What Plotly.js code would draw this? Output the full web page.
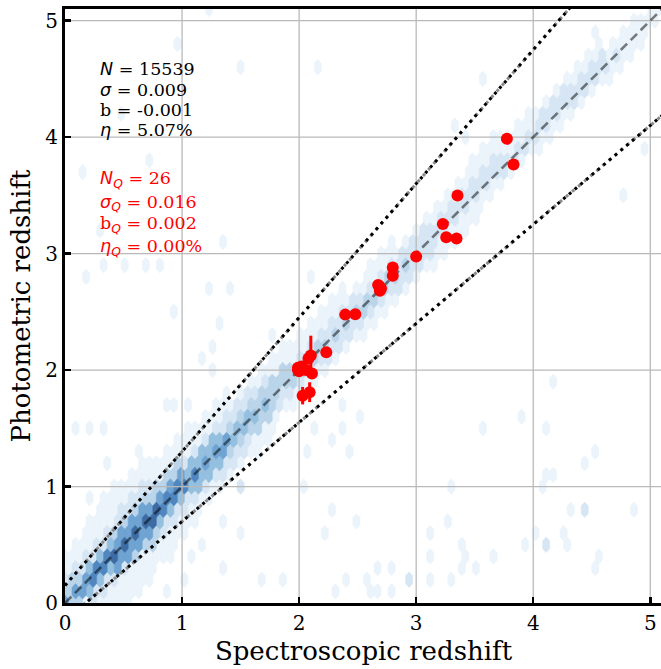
<!DOCTYPE html>
<html><head><meta charset="utf-8">
<script src="https://cdn.plot.ly/plotly-3.0.1.min.js"></script>
<style>html,body{margin:0;padding:0;overflow:hidden;background:#fff}#chart{width:665px;height:669px}</style>
</head><body><div id="chart"></div>
<script>
// ---------- quasar sample (red points) ----------
const qsoZspec = [3.775,3.832,3.353,3.228,3.257,3.345,3.00,2.80,2.80,2.675,2.69,2.70,2.394,2.48,2.232,2.10,2.08,1.99,2.02,2.00,2.11,2.09,2.03,2.06,2.685,1.99];
const qsoZphot = [3.985,3.764,3.498,3.255,3.14,3.129,2.974,2.88,2.81,2.73,2.68,2.70,2.476,2.48,2.153,2.125,2.10,2.00,2.03,1.99,1.97,1.81,1.78,2.00,2.72,2.02];
const qsoErr   = [0,0,0,0,0,0,0,0,0,0,0,0,0,0,0,0.17,0,0,0,0,0,0.085,0.075,0,0,0];

// ---------- hexbin density (levels) ----------
const densityZEdges = [0,0.2,0.4,0.6,0.8,1.0,1.2,1.4,1.6,1.8,2.0,2.2,2.4,2.6,2.8,3.0,3.2,3.4,3.6,3.8,4.0,4.2,4.4,4.6,4.8,5.0];
const densityOffsets = [-0.6,-0.5,-0.4,-0.3,-0.2,-0.1,0,0.1,0.2,0.3,0.4,0.5,0.6];
const densityLevels = [
  [0,0,0,0,1,3,5,3,2,1,1,0,0],
  [0,0,1,1,2,4,6,4,2,1,1,1,0],
  [0,1,1,1,2,5,7,5,3,2,1,1,0],
  [0,1,1,1,3,5,7,5,3,2,1,1,0],
  [0,0,1,1,2,4,6,5,3,1,1,0,0],
  [0,0,1,1,2,4,6,4,2,1,1,0,0],
  [0,0,0,1,2,4,5,4,2,1,1,0,0],
  [0,0,0,1,2,3,4,3,2,1,0,0,0],
  [0,0,0,1,1,3,4,3,2,1,0,0,0],
  [0,0,0,0,1,2,3,3,1,1,0,0,0],
  [0,0,0,0,1,2,3,2,1,1,0,0,0],
  [0,0,0,0,1,2,3,2,1,1,0,0,0],
  [0,0,0,0,1,2,3,2,1,0,0,0,0],
  [0,0,0,0,1,2,3,2,1,1,0,0,0],
  [0,0,0,0,1,2,3,2,1,0,0,0,0],
  [0,0,0,0,1,2,2,2,1,0,0,0,0],
  [0,0,0,0,1,1,2,2,1,0,0,0,0],
  [0,0,0,0,1,1,2,2,1,1,0,0,0],
  [0,0,0,0,0,1,2,2,1,1,0,0,0],
  [0,0,0,0,0,1,2,1,1,0,0,0,0],
  [0,0,0,0,0,1,2,2,1,0,0,0,0],
  [0,0,0,0,0,1,2,2,1,0,0,0,0],
  [0,0,0,0,0,1,2,2,1,0,0,0,0],
  [0,0,0,0,0,1,2,1,0,0,0,0,0],
  [0,0,0,0,0,1,1,1,0,0,0,0,0],
  [0,0,0,0,0,0,1,1,0,0,0,0,0]
];
// isolated sparse hexes (catastrophic outliers)
const sparseHexX = [1.23,0.97,1.51,2.15,0.48,0.74,0.15,0.30,0.51,1.35,0.71,0.80,0.33,0.19,1.23,1.43,0.93,1.31,1.26,1.26,1.18,0.94,1.05,0.87,1.75,1.04,1.13,0.87,0.07,0.20,0.33,0.20,0.33,0.44,0.56,0.65,0.36,
  4.17,3.91,3.54,4.10,4.44,4.54,4.17,4.10,4.07,3.31,4.30,4.44,4.84,2.28,2.48,3.27,2.20,3.10,4.03,4.25,4.12,3.37,3.91,4.30,3.14,3.44,3.64,4.54,2.79,2.58,2.68,3.12,2.30,2.40,2.60,2.80,2.95,3.30,2.68,2.37,2.52,2.15,2.35,2.27,2.05,2.41,2.03,2.30,
  0.91,1.00,1.10,0.85,1.35,1.50,1.51,1.18,1.32,1.68,1.86,3.40,3.52,4.52,
  3.57,3.31,3.40,4.97,4.76,4.93,4.51,2.11];
const sparseHexY = [5.03,4.80,4.66,4.66,4.12,3.80,3.66,3.20,2.97,3.09,2.92,2.86,2.89,2.84,2.63,2.71,2.51,2.41,2.17,1.94,2.06,1.74,1.74,1.74,2.31,1.51,1.51,1.28,1.48,1.48,1.48,0.94,0.96,1.00,1.05,1.28,1.16,
  1.84,1.61,1.50,1.50,1.27,1.27,1.16,1.05,0.94,0.94,0.82,0.82,0.82,0.71,0.71,0.71,0.60,0.60,0.60,0.60,0.48,0.48,0.48,0.48,0.37,0.37,0.37,0.37,0.37,0.26,0.26,0.26,0.14,0.14,0.14,0.14,0.14,0.14,0.05,1.63,1.63,1.50,1.50,1.38,1.27,1.27,0.94,0.82,
  0.37,0.22,0.42,0.13,0.62,0.60,1.02,0.45,0.30,0.25,0.25,0.34,0.34,0.34,
  4.58,4.12,3.99,3.89,3.54,4.98,4.89,2.75];
const sparseHexLevel = [1,1,1,1,1,1,1,1,1,1,1,1,1,1,1,1,1,1,1,1,1,1,1,1,1,1,1,1,1,1,1,1,1,1,1,1,1,
  1,1,1,1,1,1,1,1,1,1,1,2,1,1,1,1,1,1,1,1,2,1,1,1,1,1,1,1,1,1,1,1,1,1,1,1,2,1,1,1,1,1,1,1,1,1,1,1,
  1,1,1,1,1,1,2,1,1,1,1,1,1,1,
  1,1,1,1,1,1,1,1];
const levelColors = ['#ebf3fb','#d7e6f4','#bad5ea','#94bfdf','#6fa3d2','#4f86bf','#3d6ba4'];

// ---------- text ----------
const ital = s => '<span style="font-family:DejaVu Sans;font-style:italic">' + s + '</span>';
const statsAll = [ital('N') + ' = 15539', ital('σ') + ' = 0.009', 'b = -0.001', ital('η') + ' = 5.07%'];
const statsQso = [ital('N') + '<sub>' + ital('Q') + '</sub> = 26', ital('σ') + '<sub>' + ital('Q') + '</sub> = 0.016',
  'b<sub>' + ital('Q') + '</sub> = 0.002', ital('η') + '<sub>' + ital('Q') + '</sub> = 0.00%'];
const statsAllY = [4.568,4.393,4.216,4.044];
const statsQsoY = [3.632,3.432,3.247,3.047];
const statsX = 0.30;

const tickVals = [0,1,2,3,4,5];
const axisMax = 5.1;
const outlierFrac = 0.15;

// ---------- hex lattice (matplotlib-like) ----------
const SX = 0.06, SY = 0.2;
const cells = new Map();
function setCell(k, m, lev){ const key = k+','+m; if(lev > (cells.get(key)||0)) cells.set(key, lev); }
for (let k = 0; k <= 172; k++) {
  const x = 0.03*k;
  let zb = 0;
  for (let i = 0; i < densityZEdges.length; i++) if (x >= densityZEdges[i]-1e-9) zb = i;
  const row = densityLevels[zb];
  const mC = Math.round(x/0.1);
  for (let m = mC-9; m <= mC+9; m++) {
    if ((((m-k)%2)+2)%2 !== 0 || m < 0) continue;
    const d = Math.round((0.1*m - x)/0.1);
    const idx = densityOffsets.findIndex(o => Math.abs(o - d*0.1) < 1e-6);
    if (idx < 0) continue;
    if (row[idx] > 0) setCell(k, m, row[idx]);
  }
}
for (let i = 0; i < sparseHexX.length; i++) {
  let best = null, bd = 1e9;
  const k0 = Math.round(sparseHexX[i]/0.03);
  for (let k = k0-1; k <= k0+1; k++) {
    const m0 = Math.round(sparseHexY[i]/0.1);
    for (let m = m0-1; m <= m0+1; m++) {
      if ((((m-k)%2)+2)%2 !== 0 || m < 0) continue;
      const dx = (0.03*k - sparseHexX[i])/SX, dy = (0.1*m - sparseHexY[i])/SY;
      const dd = dx*dx + dy*dy;
      if (dd < bd) { bd = dd; best = [k, m]; }
    }
  }
  if (best) setCell(best[0], best[1], sparseHexLevel[i]);
}
const polyX = levelColors.map(() => []), polyY = levelColors.map(() => []);
const hexDX = [0.5,0.5,0,-0.5,-0.5,0,0.5], hexDY = [-1/6,1/6,1/3,1/6,-1/6,-1/3,-1/6];
cells.forEach((lev, key) => {
  const [k, m] = key.split(',').map(Number);
  const cx = 0.03*k, cy = 0.1*m;
  for (let j = 0; j < hexDX.length; j++) { polyX[lev-1].push(cx + hexDX[j]*SX); polyY[lev-1].push(cy + hexDY[j]*SY); }
  polyX[lev-1].push(null); polyY[lev-1].push(null);
});

const traces = [];
levelColors.forEach((c, i) => {
  traces.push({type:'scatter', mode:'lines', x: polyX[i], y: polyY[i], fill:'toself', fillcolor:c,
    line:{color:c, width:0.6}, hoverinfo:'skip', showlegend:false});
});
// grid lines on top of hexes
const gx = [], gy = [];
tickVals.filter(v => v > 0).forEach(v => { gx.push(v, v, null); gy.push(0, axisMax, null); gx.push(0, axisMax, null); gy.push(v, v, null); });
traces.push({type:'scatter', mode:'lines', x: gx, y: gy, line:{color:'#b9b9b9', width:1.3}, hoverinfo:'skip', showlegend:false});

const lineX = [0, axisMax];
const upperY = lineX.map(x => x + outlierFrac*(1+x));
const lowerY = lineX.map(x => x - outlierFrac*(1+x));
[upperY, lowerY].forEach(yy => traces.push({type:'scatter', mode:'lines', x: lineX, y: yy,
  line:{color:'#8a8a8a', width:3, dash:'3px,5px'}, hoverinfo:'skip', showlegend:false}));
[upperY, lowerY].forEach(yy => traces.push({type:'scatter', mode:'lines', x: lineX, y: yy,
  line:{color:'#000000', width:3, dash:'3px,4.5px'}, hoverinfo:'skip', showlegend:false}));
traces.push({type:'scatter', mode:'lines', x: lineX, y: lineX,
  line:{color:'rgba(0,0,0,0.5)', width:2.6, dash:'9px,5px'}, hoverinfo:'skip', showlegend:false});
traces.push({type:'scatter', mode:'markers', x: qsoZspec, y: qsoZphot,
  marker:{color:'#ff0000', size:12},
  error_y:{type:'data', array: qsoErr, visible:true, color:'#ff0000', thickness:3, width:0},
  showlegend:false, hoverinfo:'skip'});
// statistics text
traces.push({type:'scatter', mode:'text', x: statsAll.map(() => statsX), y: statsAllY, text: statsAll,
  textposition:'middle right', textfont:{family:'DejaVu Serif', size:17.5, color:'#000000'},
  cliponaxis:false, hoverinfo:'skip', showlegend:false});
traces.push({type:'scatter', mode:'text', x: statsQso.map(() => statsX), y: statsQsoY, text: statsQso,
  textposition:'middle right', textfont:{family:'DejaVu Serif', size:17.5, color:'#ff0000'},
  cliponaxis:false, hoverinfo:'skip', showlegend:false});

const axisCommon = {range:[0, axisMax], tickvals: tickVals, ticktext: tickVals.map(String), ticks:'inside', ticklen:6, tickwidth:2.5,
  tickcolor:'#000', showline:true, linewidth:3, linecolor:'#000', mirror:true, showgrid:false, zeroline:false,
  tickfont:{family:'DejaVu Serif', size:20, color:'#000'}, fixedrange:true};
const layout = {
  width:665, height:669, margin:{l:65, r:3, t:9, b:66}, paper_bgcolor:'#fff', plot_bgcolor:'#fff',
  xaxis: Object.assign({}, axisCommon, {title:{text:'Spectroscopic redshift', font:{family:'DejaVu Serif', size:26, color:'#000'}, standoff:8}}),
  yaxis: Object.assign({}, axisCommon, {title:{text:'Photometric redshift', font:{family:'DejaVu Serif', size:26, color:'#000'}, standoff:8}}),
  showlegend:false
};
Plotly.newPlot('chart', traces, layout, {displayModeBar:false, staticPlot:true});
</script></body></html>
